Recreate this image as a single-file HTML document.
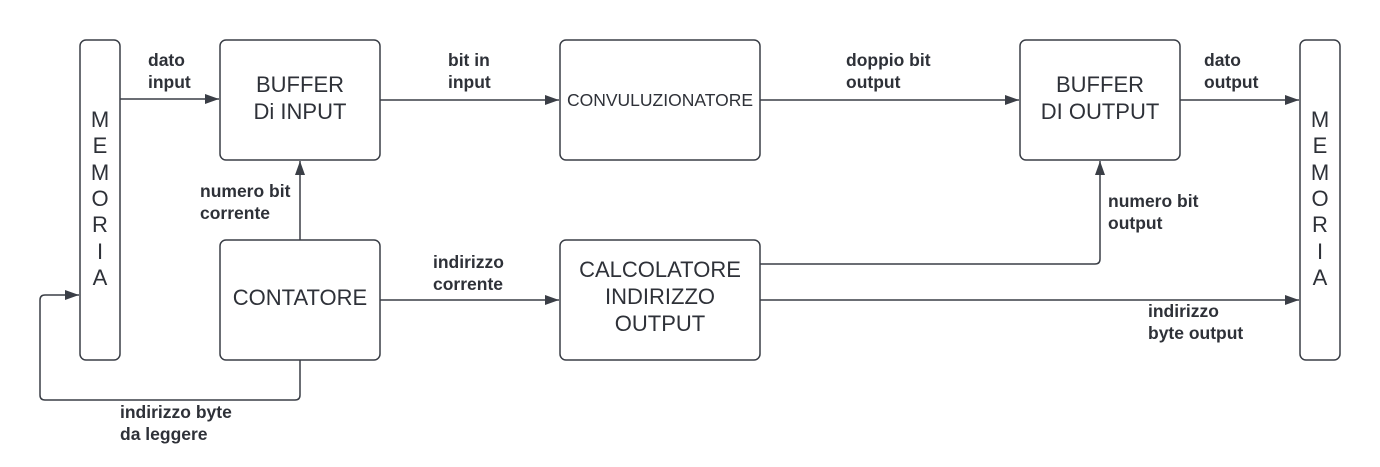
<!DOCTYPE html>
<html><head><style>
body{margin:0;background:#fff}
svg text{font-family:"Liberation Sans",sans-serif;fill:#2e3138}
.b{font-weight:bold;font-size:17.5px}
.n{font-size:22px}
</style></head><body>
<svg width="1380" height="462" viewBox="0 0 1380 462" xmlns="http://www.w3.org/2000/svg">
<defs><marker id="a" markerWidth="14" markerHeight="10" refX="14" refY="5" orient="auto" markerUnits="userSpaceOnUse"><path d="M0,0 L14,5 L0,10 Z" fill="#3a3e46"/></marker></defs>
<g fill="#fff" stroke="#3a3e46" stroke-width="1.5">
<rect x="80" y="40" width="40" height="320" rx="6"/>
<rect x="1300" y="40" width="40" height="320" rx="6"/>
<rect x="220" y="40" width="160" height="120" rx="6"/>
<rect x="220" y="240" width="160" height="120" rx="6"/>
<rect x="560" y="40" width="200" height="120" rx="6"/>
<rect x="560" y="240" width="200" height="120" rx="6"/>
<rect x="1020" y="40" width="160" height="120" rx="6"/>
</g>
<g fill="none" stroke="#3a3e46" stroke-width="1.5" marker-end="url(#a)">
<path d="M120,99 H219"/>
<path d="M380,100 H559"/>
<path d="M760,100 H1019"/>
<path d="M1180,100 H1299"/>
<path d="M300,240 V161"/>
<path d="M300,360 V395 Q300,400 295,400 H45 Q40,400 40,395 V300 Q40,295 45,295 H79"/>
<path d="M380,300 H559"/>
<path d="M760,264 H1095 Q1100,264 1100,259 V161"/>
<path d="M760,300 H1299"/>
</g>
<g class="n" text-anchor="middle">
<text x="100" y="127">M</text><text x="100" y="153">E</text><text x="100" y="180">M</text><text x="100" y="206">O</text><text x="100" y="232">R</text><text x="100" y="259">I</text><text x="100" y="285">A</text>
<text x="1320" y="127">M</text><text x="1320" y="153">E</text><text x="1320" y="180">M</text><text x="1320" y="206">O</text><text x="1320" y="232">R</text><text x="1320" y="259">I</text><text x="1320" y="285">A</text>
<text x="300" y="92">BUFFER</text><text x="300" y="119">Di INPUT</text>
<text x="300" y="305">CONTATORE</text>
<text x="660" y="106" style="font-size:17.5px">CONVULUZIONATORE</text>
<text x="660" y="277">CALCOLATORE</text><text x="660" y="304">INDIRIZZO</text><text x="660" y="331">OUTPUT</text>
<text x="1100" y="92">BUFFER</text><text x="1100" y="119">DI OUTPUT</text>
</g>
<g class="b">
<text x="148" y="66">dato</text><text x="148" y="88">input</text>
<text x="448" y="66">bit in</text><text x="448" y="88">input</text>
<text x="200" y="197">numero bit</text><text x="200" y="219">corrente</text>
<text x="120" y="418">indirizzo byte</text><text x="120" y="440">da leggere</text>
<text x="433" y="268">indirizzo</text><text x="433" y="290">corrente</text>
<text x="846" y="66">doppio bit</text><text x="846" y="88">output</text>
<text x="1204" y="66">dato</text><text x="1204" y="88">output</text>
<text x="1108" y="207">numero bit</text><text x="1108" y="229">output</text>
<text x="1148" y="317">indirizzo</text><text x="1148" y="339">byte output</text>
</g>
</svg>
</body></html>
